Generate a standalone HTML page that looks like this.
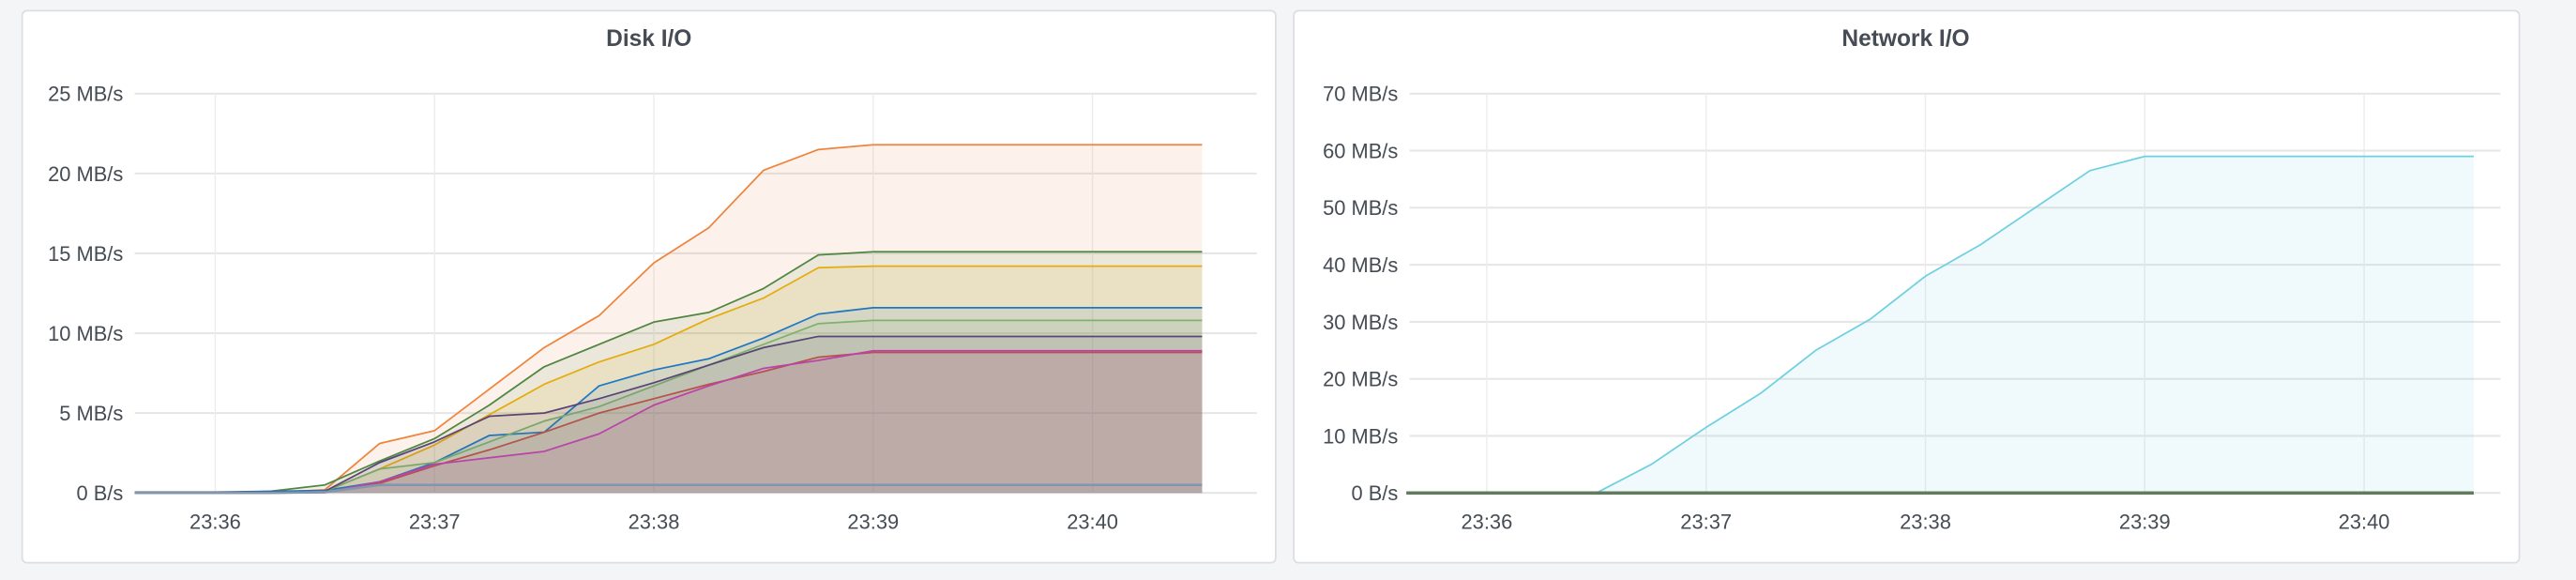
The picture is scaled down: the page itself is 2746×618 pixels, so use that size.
<!DOCTYPE html>
<html><head><meta charset="utf-8">
<style>
html,body{margin:0;padding:0;background:#f4f5f7;width:2746px;height:618px;overflow:hidden}
svg{display:block}
</style></head>
<body>
<svg id="root" width="2746" height="618" viewBox="0 0 1568 353" preserveAspectRatio="none" xmlns="http://www.w3.org/2000/svg" font-family="'Liberation Sans', sans-serif">
<rect x="0" y="0" width="1568" height="353" fill="#f4f5f7"/>
<rect x="13.5" y="6.5" width="763" height="336" rx="3" fill="#fff" stroke="#dcdee3"/>
<rect x="787.5" y="6.5" width="746" height="336" rx="3" fill="#fff" stroke="#dcdee3"/>
<text x="395" y="28" text-anchor="middle" font-size="14" font-weight="bold" fill="#464c54">Disk I/O</text>
<text x="1160" y="28" text-anchor="middle" font-size="14" font-weight="bold" fill="#464c54">Network I/O</text>
<g id="disk"></g>
<g id="net"></g>
</svg>
<script>
// time in seconds relative to 23:36:00
const times = [-22,-15,0,15,30,45,60,75,90,105,120,135,150,165,180,195,210,225,240,255,270];
const xTickLabels = ["23:36","23:37","23:38","23:39","23:40"];
const xTickValues = [0,60,120,180,240];
const diskTickValues = [0,5,10,15,20,25];
const diskTickLabels = ["0 B/s","5 MB/s","10 MB/s","15 MB/s","20 MB/s","25 MB/s"];
const netTickValues = [0,10,20,30,40,50,60,70];
const netTickLabels = ["0 B/s","10 MB/s","20 MB/s","30 MB/s","40 MB/s","50 MB/s","60 MB/s","70 MB/s"];
const diskOrange  = [0,0,0,0.02,0.2,3.1,3.9,6.5,9.1,11.1,14.4,16.6,20.2,21.5,21.8,21.8,21.8,21.8,21.8,21.8,21.8];
const diskGreen   = [0,0,0,0.1,0.5,2.0,3.4,5.5,7.9,9.3,10.7,11.3,12.8,14.9,15.1,15.1,15.1,15.1,15.1,15.1,15.1];
const diskYellow  = [0,0,0,0.02,0.1,1.5,3.0,4.9,6.8,8.2,9.3,10.9,12.2,14.1,14.2,14.2,14.2,14.2,14.2,14.2,14.2];
const diskBlue    = [0.05,0.05,0.05,0.1,0.15,0.7,1.9,3.6,3.8,6.7,7.7,8.4,9.7,11.2,11.6,11.6,11.6,11.6,11.6,11.6,11.6];
const diskOlive   = [0,0,0,0.02,0.1,1.5,1.9,3.2,4.5,5.4,6.7,8.0,9.3,10.6,10.8,10.8,10.8,10.8,10.8,10.8,10.8];
const diskPurple  = [0.05,0.05,0.05,0.05,0.1,1.9,3.2,4.8,5.0,5.9,6.9,8.0,9.1,9.8,9.8,9.8,9.8,9.8,9.8,9.8,9.8];
const diskRed     = [0,0,0,0.02,0.05,0.6,1.7,2.7,3.8,5.0,5.9,6.8,7.6,8.5,8.8,8.8,8.8,8.8,8.8,8.8,8.8];
const diskMagenta = [0,0,0,0,0.02,0.7,1.8,2.2,2.6,3.7,5.5,6.7,7.8,8.3,8.9,8.9,8.9,8.9,8.9,8.9,8.9];
const diskSlate   = [0,0,0,0,0.05,0.5,0.5,0.5,0.5,0.5,0.5,0.5,0.5,0.5,0.5,0.5,0.5,0.5,0.5,0.5,0.5];
const netReceive  = [0,0,0,0,0,5,11.5,17.5,25,30.5,38,43.5,50,56.5,59,59,59,59,59,59,59];
const netTransmit = [0,0,0,0,0,0,0,0,0,0,0,0,0,0,0,0,0,0,0,0,0];

const NS="http://www.w3.org/2000/svg";
function mk(tag,attrs,parent){const e=document.createElementNS(NS,tag);for(const k in attrs)e.setAttribute(k,attrs[k]);parent.appendChild(e);return e;}

function drawChart(g, cfg){
  const xs = t => cfg.x0 + (t/60)*cfg.pxPerMin;
  const ys = v => cfg.yBase - (v/cfg.yMax)*(cfg.yBase-cfg.yTop);
  cfg.yTicks.forEach((v,i)=>{
    const l=mk('line',{x1:cfg.left,x2:cfg.right,y1:ys(v),y2:ys(v),stroke:'#e6e6e6','stroke-width':1.2},g);
    
    
    const t=mk('text',{x:cfg.left-7,y:ys(v)+4.5,'text-anchor':'end','font-size':12.5,fill:'#464c54'},g);
    t.textContent=cfg.yLabels[i];
    
    
  });
  xTickValues.forEach((v,i)=>{
    const l=mk('line',{x1:xs(v),x2:xs(v),y1:cfg.yTop,y2:cfg.yBase,stroke:'#ececec','stroke-width':0.8},g);
    
    
    const t=mk('text',{x:xs(v),y:cfg.yBase+22,'text-anchor':'middle','font-size':12.5,fill:'#464c54'},g);
    t.textContent=xTickLabels[i];
    
    
  });
  cfg.series.forEach(s=>{
    let pts=times.map((t,i)=>xs(t).toFixed(2)+','+ys(s.data[i]).toFixed(2));
    const area=mk('path',{d:'M'+xs(times[0])+','+ys(0)+' L'+pts.join(' L')+' L'+xs(times[times.length-1])+','+ys(0)+' Z',fill:s.color,'fill-opacity':s.fo},g);
    
    
    const line=mk('polyline',{points:pts.join(' '),fill:'none',stroke:s.color,'stroke-width':s.w||1,'stroke-linejoin':'round'},g);
    
    
  });
}

drawChart(document.getElementById('disk'),{
  x0:131,pxPerMin:133.5,yBase:300,yTop:57,yMax:25,left:82,right:765,
  yTicks:diskTickValues,yLabels:diskTickLabels,
  series:[
    {name:'disk-orange',data:diskOrange,color:'#ef843c',fo:0.1},
    {name:'disk-green',data:diskGreen,color:'#508642',fo:0.1},
    {name:'disk-yellow',data:diskYellow,color:'#e5ac0e',fo:0.1},
    {name:'disk-blue',data:diskBlue,color:'#1f78c1',fo:0.1},
    {name:'disk-olive',data:diskOlive,color:'#7eb26d',fo:0.1},
    {name:'disk-purple',data:diskPurple,color:'#584477',fo:0.1},
    {name:'disk-red',data:diskRed,color:'#b5524a',fo:0.1},
    {name:'disk-magenta',data:diskMagenta,color:'#ba43a9',fo:0.1},
    {name:'disk-slate',data:diskSlate,color:'#7f98ad',fo:0.1,w:1.5}
  ]
});
drawChart(document.getElementById('net'),{
  x0:905,pxPerMin:133.5,yBase:300,yTop:57,yMax:70,left:858,right:1522,
  yTicks:netTickValues,yLabels:netTickLabels,
  series:[
    {name:'net-receive',data:netReceive,color:'#6ed0e0',fo:0.1},
    {name:'net-transmit',data:netTransmit,color:'#5f7d5a',fo:0.1,w:2}
  ]
});
</script>
</body></html>
